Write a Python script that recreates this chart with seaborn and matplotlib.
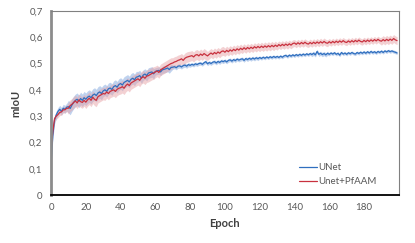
import matplotlib
matplotlib.use("Agg")
import matplotlib.pyplot as plt
import seaborn as sb
import numpy as np
import pandas as pd

epochs = np.arange(200)

unet = [0.120, 0.225, 0.285, 0.305, 0.318, 0.326, 0.318, 0.330, 0.326, 0.334,
        0.336, 0.329, 0.342, 0.352, 0.360, 0.364, 0.356, 0.367, 0.360, 0.370,
        0.364, 0.372, 0.376, 0.370, 0.380, 0.384, 0.378, 0.388, 0.392, 0.386,
        0.396, 0.400, 0.394, 0.404, 0.407, 0.401, 0.412, 0.416, 0.410, 0.420,
        0.424, 0.418, 0.428, 0.432, 0.436, 0.430, 0.440, 0.444, 0.438, 0.448,
        0.450, 0.454, 0.444, 0.456, 0.460, 0.454, 0.464, 0.466, 0.468, 0.461,
        0.470, 0.472, 0.474, 0.468, 0.476, 0.478, 0.480, 0.483, 0.477, 0.485,
        0.486, 0.488, 0.484, 0.490, 0.491, 0.487, 0.492, 0.494, 0.490, 0.496,
        0.493, 0.497, 0.494, 0.499, 0.496, 0.500, 0.501, 0.497, 0.503, 0.507,
        0.499, 0.504, 0.500, 0.505, 0.507, 0.502, 0.508, 0.504, 0.510, 0.507,
        0.511, 0.506, 0.512, 0.514, 0.509, 0.515, 0.511, 0.517, 0.513, 0.516,
        0.518, 0.512, 0.519, 0.515, 0.520, 0.516, 0.521, 0.517, 0.522, 0.518,
        0.523, 0.519, 0.524, 0.520, 0.525, 0.521, 0.526, 0.522, 0.527, 0.523,
        0.527, 0.523, 0.528, 0.524, 0.529, 0.531, 0.526, 0.532, 0.528, 0.533,
        0.529, 0.534, 0.530, 0.535, 0.531, 0.536, 0.532, 0.537, 0.533, 0.538,
        0.534, 0.539, 0.533, 0.546, 0.535, 0.539, 0.534, 0.538, 0.533, 0.539,
        0.535, 0.540, 0.536, 0.541, 0.535, 0.539, 0.532, 0.542, 0.536, 0.540,
        0.535, 0.541, 0.537, 0.542, 0.538, 0.536, 0.542, 0.538, 0.543, 0.539,
        0.544, 0.539, 0.545, 0.540, 0.546, 0.541, 0.545, 0.540, 0.546, 0.542,
        0.547, 0.542, 0.548, 0.544, 0.549, 0.545, 0.548, 0.545, 0.543, 0.540]

unet_pfaam = [0.170, 0.240, 0.290, 0.300, 0.306, 0.314, 0.316, 0.324, 0.324, 0.330,
              0.330, 0.340, 0.345, 0.352, 0.358, 0.350, 0.362, 0.355, 0.352, 0.360,
              0.353, 0.362, 0.368, 0.360, 0.372, 0.364, 0.360, 0.374, 0.378, 0.382,
              0.386, 0.384, 0.392, 0.386, 0.394, 0.397, 0.400, 0.394, 0.402, 0.406,
              0.408, 0.412, 0.406, 0.416, 0.422, 0.416, 0.426, 0.430, 0.434, 0.438,
              0.442, 0.436, 0.446, 0.450, 0.444, 0.452, 0.454, 0.458, 0.462, 0.464,
              0.468, 0.472, 0.466, 0.476, 0.480, 0.484, 0.488, 0.492, 0.496, 0.500,
              0.502, 0.506, 0.508, 0.512, 0.514, 0.518, 0.512, 0.520, 0.524, 0.526,
              0.528, 0.530, 0.525, 0.532, 0.534, 0.529, 0.536, 0.531, 0.538, 0.533,
              0.529, 0.535, 0.540, 0.535, 0.542, 0.537, 0.544, 0.539, 0.546, 0.548,
              0.543, 0.550, 0.545, 0.552, 0.547, 0.554, 0.549, 0.556, 0.551, 0.558,
              0.553, 0.560, 0.554, 0.561, 0.556, 0.562, 0.557, 0.564, 0.559, 0.565,
              0.560, 0.566, 0.561, 0.567, 0.562, 0.568, 0.563, 0.569, 0.564, 0.570,
              0.565, 0.572, 0.567, 0.573, 0.568, 0.574, 0.569, 0.575, 0.570, 0.576,
              0.578, 0.573, 0.579, 0.574, 0.580, 0.575, 0.581, 0.576, 0.574, 0.580,
              0.575, 0.581, 0.576, 0.582, 0.577, 0.583, 0.578, 0.584, 0.579, 0.577,
              0.583, 0.578, 0.584, 0.579, 0.585, 0.580, 0.586, 0.581, 0.587, 0.582,
              0.580, 0.586, 0.581, 0.587, 0.582, 0.588, 0.583, 0.589, 0.584, 0.582,
              0.588, 0.583, 0.589, 0.584, 0.590, 0.585, 0.591, 0.586, 0.592, 0.587,
              0.585, 0.591, 0.586, 0.592, 0.587, 0.593, 0.588, 0.595, 0.590, 0.587]

# half width of the shaded band, one value per 10 epochs
unet_spread = [0.015, 0.024, 0.024, 0.022, 0.022, 0.020, 0.014, 0.008, 0.007, 0.007,
               0.007, 0.007, 0.006, 0.006, 0.006, 0.008, 0.006, 0.006, 0.006, 0.006]
pfaam_spread = [0.012, 0.022, 0.024, 0.024, 0.024, 0.024, 0.022, 0.020, 0.019, 0.017,
                0.016, 0.015, 0.015, 0.014, 0.013, 0.013, 0.012, 0.012, 0.012, 0.015]

yticks = [0, 0.1, 0.2, 0.3, 0.4, 0.5, 0.6, 0.7]
ytick_labels = ["0", "0,1", "0,2", "0,3", "0,4", "0,5", "0,6", "0,7"]
xticks = [0, 20, 40, 60, 80, 100, 120, 140, 160, 180, 200]
xtick_labels = ["0", "20", "40", "60", "80", "100", "120", "140", "160", "180", ""]

sb.set_style("white")
plt.rcParams['font.family'] = ['Lato', 'DejaVu Sans']

df = pd.DataFrame({
    "Epoch": np.concatenate([epochs, epochs]),
    "mIoU": np.concatenate([unet, unet_pfaam]),
    "model": ["UNet"] * 200 + ["Unet+PfAAM"] * 200,
})

blue = "#2F6FBF"
red = "#C8313E"

fig = plt.figure(figsize=(4.15, 2.43), dpi=100)
ax = fig.add_axes([0.123, 0.1975, 0.838, 0.7575])

sd_b = np.repeat(unet_spread, 10)
sd_r = np.repeat(pfaam_spread, 10)
ax.fill_between(epochs, np.array(unet) - sd_b, np.array(unet) + sd_b,
                color="#9DBBE6", alpha=0.65, lw=0)
ax.fill_between(epochs, np.array(unet_pfaam) - sd_r, np.array(unet_pfaam) + sd_r,
                color="#E8A4A8", alpha=0.5, lw=0)

sb.lineplot(data=df, x="Epoch", y="mIoU", hue="model", palette=[blue, red],
            linewidth=0.9, ax=ax)

ax.set_xlim(0, 200)
ax.set_ylim(0, 0.7)
ax.set_yticks(yticks)
ax.set_yticklabels(ytick_labels)
ax.set_xticks(xticks)
ax.set_xticklabels(xtick_labels)
ax.tick_params(axis="both", labelsize=7, colors="#595959", length=3, width=0.8,
               direction="out", pad=3)
ax.tick_params(axis="x", colors="black")
for lab in ax.get_xticklabels() + ax.get_yticklabels():
    lab.set_color("#595959")
ax.set_xlabel("Epoch", fontsize=8, fontweight="bold", color="#404040", labelpad=4)
ax.set_ylabel("mIoU", fontsize=8, fontweight="bold", color="#404040", labelpad=6)

for side in ["top", "right"]:
    ax.spines[side].set_color("#808080")
    ax.spines[side].set_linewidth(0.8)
ax.spines["left"].set_color("#8C8C8C")
ax.spines["left"].set_linewidth(2)
ax.spines["bottom"].set_color("black")
ax.spines["bottom"].set_linewidth(1.3)

leg = ax.legend(loc="lower right", frameon=False, fontsize=7, handlelength=1.85,
                handletextpad=0.1, labelspacing=0.55, bbox_to_anchor=(0.96, 0.0))
for t in leg.get_texts():
    t.set_color("#595959")

plt.savefig("out.png", dpi=100)
